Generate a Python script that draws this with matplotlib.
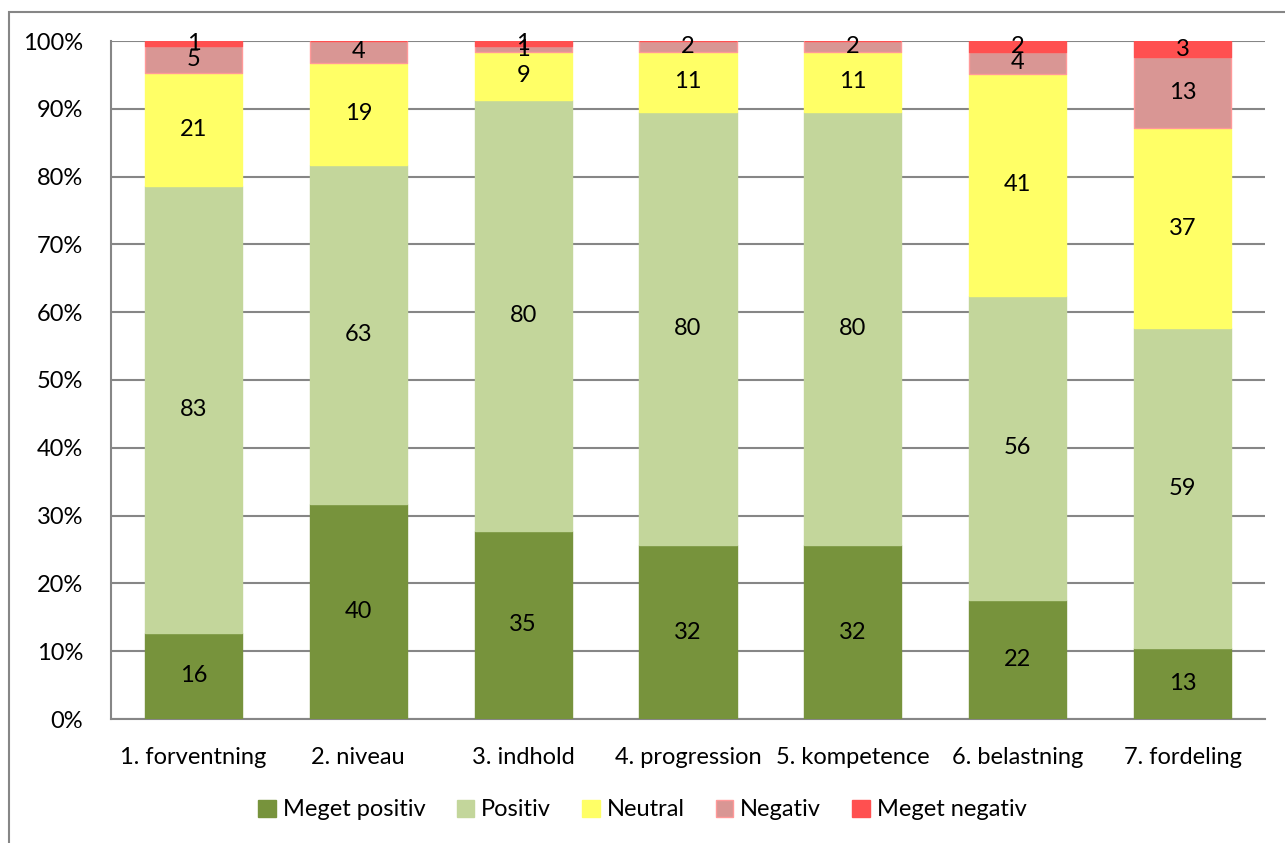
import matplotlib
matplotlib.use("Agg")
import matplotlib.pyplot as plt
from matplotlib.patches import Rectangle
import numpy as np

categories = ["1. forventning", "2. niveau", "3. indhold", "4. progression",
              "5. kompetence", "6. belastning", "7. fordeling"]
series_names = ["Meget positiv", "Positiv", "Neutral", "Negativ", "Meget negativ"]
meget_positiv = [16, 40, 35, 32, 32, 22, 13]
positiv = [83, 63, 80, 80, 80, 56, 59]
neutral = [21, 19, 9, 11, 11, 41, 37]
negativ = [5, 4, 1, 2, 2, 4, 13]
meget_negativ = [1, 0, 1, 0, 0, 2, 3]
y_ticks = [0, 10, 20, 30, 40, 50, 60, 70, 80, 90, 100]

colors = ["#77933C", "#C3D69B", "#FFFF66", "#D99694", "#FF5050"]
edges = ["#77933C", "#C3D69B", "#FFFF66", "#FF9999", "#FF5050"]

plt.rcParams['font.family'] = ['Lato', 'DejaVu Sans']

fig = plt.figure(figsize=(12.85, 8.43), dpi=100)
ax = fig.add_axes([111/1285, 1 - 719/843, (1265-111)/1285, (719-41)/843])

data = np.array([meget_positiv, positiv, neutral, negativ, meget_negativ], dtype=float)
totals = data.sum(axis=0)
pct = data / totals * 100
x = np.arange(len(categories))
bottom = np.zeros(len(categories))
for i, name in enumerate(series_names):
    ax.bar(x, pct[i], bottom=bottom, width=0.59, color=colors[i],
           edgecolor=edges[i], linewidth=1.0, label=name, zorder=3)
    for j in range(len(categories)):
        if data[i, j] > 0:
            ax.text(x[j], bottom[j] + pct[i, j] / 2, f"{int(data[i, j])}",
                    ha="center", va="center", fontsize=17, color="black", zorder=4)
    bottom += pct[i]

ax.set_xlim(-0.5, len(categories) - 0.5)
ax.set_ylim(0, 100)
ax.set_yticks(y_ticks)
ax.set_yticklabels([f"{t}%" for t in y_ticks])
ax.set_xticks(x)
ax.set_xticklabels(categories)
ax.tick_params(axis="both", length=0, labelsize=17, colors="black")
ax.tick_params(axis="y", pad=20)
ax.tick_params(axis="x", pad=20)
ax.yaxis.grid(True, color="#868686", linewidth=1.5, zorder=0)
for side in ["top", "right"]:
    ax.spines[side].set_visible(False)
for side in ["left", "bottom"]:
    ax.spines[side].set_color("#868686")
    ax.spines[side].set_linewidth(1.5)

leg = fig.legend(loc="center", bbox_to_anchor=(0.5, 1 - 810/843), ncol=5,
                 frameon=False, fontsize=17, handlelength=0.75, handleheight=0.75,
                 handletextpad=0.3, columnspacing=1.3)

fig.patches.append(Rectangle((9/1285, -0.01), 1.02, 1 - 12/843 + 0.01,
                             transform=fig.transFigure, fill=False,
                             edgecolor="#868686", linewidth=1.5))

fig.savefig("out.png", dpi=100)
